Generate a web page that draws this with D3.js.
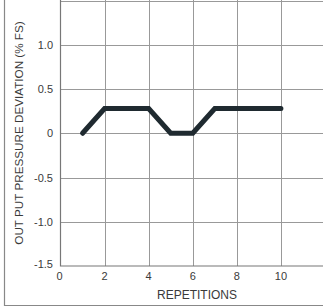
<!DOCTYPE html>
<html>
<head>
<meta charset="utf-8">
<script src="https://cdn.jsdelivr.net/npm/d3@7"></script>
<style>
  body { margin: 0; background: #fff; }
  text { font-family: "Liberation Sans", Arial, sans-serif; fill: #3a3a3a; }
</style>
</head>
<body>
<script>
// repetitions vs deviation (% FS)
const reps = [1, 2, 4, 5, 6, 7, 10];
const deviation = [0, 0.28, 0.28, 0, 0, 0.28, 0.28];
const xTicks = [0, 2, 4, 6, 8, 10];
const yTicks = [-1.5, -1.0, -0.5, 0, 0.5, 1.0];
const yLabels = ['-1.5', '-1.0', '-0.5', '0', '0.5', '1.0'];

let w = 323, h = 307;

let svg = d3.select('body').append('svg')
    .attr('width', w)
    .attr('height', h);

let x = d3.scaleLinear().domain([0, 12]).range([60.5, 325]);
let y = d3.scaleLinear().domain([-1.5, 1.5]).range([266, 0.5]);

// outer frame (left and bottom only visible)
svg.append('path')
    .attr('d', `M4.5,0 V305.5 H${w}`)
    .attr('fill', 'none')
    .attr('stroke', '#888')
    .attr('stroke-width', 1.2);

// grid
let grid = svg.append('g');
grid.selectAll('line.v')
    .data(xTicks.slice(1).concat([12]))
    .enter().append('line')
    .attr('x1', d => Math.round(x(d)) + 0.5)
    .attr('x2', d => Math.round(x(d)) + 0.5)
    .attr('y1', 0).attr('y2', y(-1.5))
    .attr('stroke', '#999');
grid.selectAll('line.h')
    .data([-1.0, -0.5, 0, 0.5, 1.0, 1.5])
    .enter().append('line')
    .attr('x1', x(0)).attr('x2', w)
    .attr('y1', d => Math.round(y(d)) + 0.5)
    .attr('y2', d => Math.round(y(d)) + 0.5)
    .attr('stroke', '#999');

// axes lines
svg.append('path')
    .attr('d', `M${x(0)},0 V${y(-1.5)} H${w}`)
    .attr('fill', 'none')
    .attr('stroke', '#777')
    .attr('stroke-width', 1.2);

// y tick labels
svg.selectAll('text.yt')
    .data(yTicks)
    .enter().append('text')
    .attr('x', 53)
    .attr('y', (d, i) => y(d) + (i === 0 ? 2 : 4))
    .attr('text-anchor', 'end')
    .attr('font-size', 11)
    .text((d, i) => yLabels[i]);

// x tick labels
svg.selectAll('text.xt')
    .data(xTicks)
    .enter().append('text')
    .attr('x', d => x(d) + (d === 0 ? -1 : 0))
    .attr('y', 280)
    .attr('text-anchor', 'middle')
    .attr('font-size', 11)
    .text(d => d);

// axis titles
svg.append('text')
    .attr('x', 197)
    .attr('y', 299)
    .attr('text-anchor', 'middle')
    .attr('font-size', 12)
    .text('REPETITIONS');

svg.append('text')
    .attr('transform', 'translate(22.5,133) rotate(-90)')
    .attr('text-anchor', 'middle')
    .attr('font-size', 11.7)
    .text('OUT PUT PRESSURE DEVIATION (% FS)');

// data line
let line = d3.line()
    .x((d, i) => x(reps[i]))
    .y(d => y(d));

svg.append('path')
    .datum(deviation)
    .attr('d', line)
    .attr('fill', 'none')
    .attr('stroke', '#1f2a30')
    .attr('stroke-width', 5)
    .attr('stroke-linejoin', 'miter')
    .attr('stroke-linecap', 'round');
</script>
</body>
</html>
